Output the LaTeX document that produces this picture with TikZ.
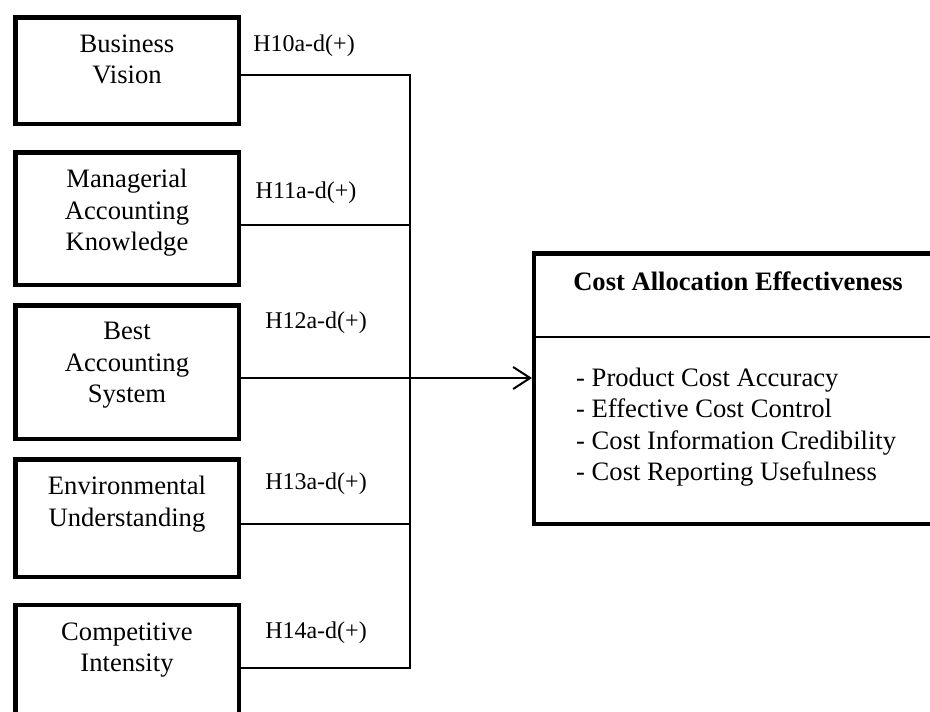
\documentclass[tikz,border=0pt]{standalone}
\usepackage{fontspec}
\setmainfont{Liberation Serif}
\usetikzlibrary{arrows.meta}
\begin{document}
\begin{tikzpicture}[x=1pt,y=-1pt,
  txt/.style={font=\fontsize{24}{31.5}\selectfont, inner sep=0pt},
  bigtxt/.style={font=\fontsize{26.6}{31.5}\selectfont, inner sep=0pt},
  varbox/.style={draw, line width=4.5pt, rectangle, minimum width=223.5pt, inner sep=0pt},
  boxlabel/.style={bigtxt, align=center, anchor=north},
  hyp/.style={txt, anchor=base},
  link/.style={line width=2pt},
  ]
\useasboundingbox (0,0) rectangle (930,712);
\clip (0,0) rectangle (930,712);

% independent variables
\node[varbox, minimum height=106.5pt] (bv) at (127,70.5)  {};
\node[varbox, minimum height=132.5pt] (mk) at (127,218.5) {};
\node[varbox, minimum height=133.5pt] (ba) at (127,372)   {};
\node[varbox, minimum height=117.5pt] (eu) at (127,518)   {};
\node[varbox, minimum height=134.75pt] (ci) at (127,672.6) {};

\node[boxlabel] (bvT) at ([yshift=-19.3pt]bv.north) {Business\\Vision};
\node[boxlabel] (mkT) at ([yshift=-19.3pt]mk.north) {Managerial\\Accounting\\Knowledge};
\node[boxlabel] (baT) at ([yshift=-19.3pt]ba.north) {Best\\Accounting\\System};
\node[boxlabel] (euT) at ([yshift=-19.3pt]eu.north) {Environmental\\Understanding};
\node[boxlabel] (ciT) at ([yshift=-19.3pt]ci.north) {Competitive\\Intensity};

% dependent variable
\node[varbox, minimum width=410.75pt, minimum height=270.5pt] (cae) at (739.6,388.5) {};
\draw[line width=1.5pt] (cae.west |- 0,337) -- (cae.east |- 0,337);
\node[bigtxt, anchor=base, font=\fontsize{26.6}{31.5}\selectfont\bfseries] (caeT) at (738,290) {Cost Allocation Effectiveness};
\node[bigtxt, align=left, anchor=north west] (caeL) at (576,367.8)
  {- Product Cost Accuracy\\- Effective Cost Control\\- Cost Information Credibility\\- Cost Reporting Usefulness};

% hypothesis labels
\node[hyp] (h10) at (304,51)  {H10a-d(+)};
\node[hyp] (h11) at (306,198) {H11a-d(+)};
\node[hyp] (h12) at (316,328) {H12a-d(+)};
\node[hyp] (h13) at (316,489) {H13a-d(+)};
\node[hyp] (h14) at (316,638) {H14a-d(+)};

% collecting bus
\coordinate (j1) at (410,75);
\coordinate (j2) at (410,225);
\coordinate (j3) at (410,378);
\coordinate (j4) at (410,524);
\coordinate (j5) at (410,668);

\draw[link] (bv.east |- j1) -- (j1) -- (j5) -- (ci.east |- j5);
\draw[link] (mk.east |- j2) -- (j2);
\draw[link] (eu.east |- j4) -- (j4);
\draw[link, -{Straight Barb[length=17pt,width=22pt]}] (ba.east |- j3) -- (cae.west |- j3);
\end{tikzpicture}
\end{document}
